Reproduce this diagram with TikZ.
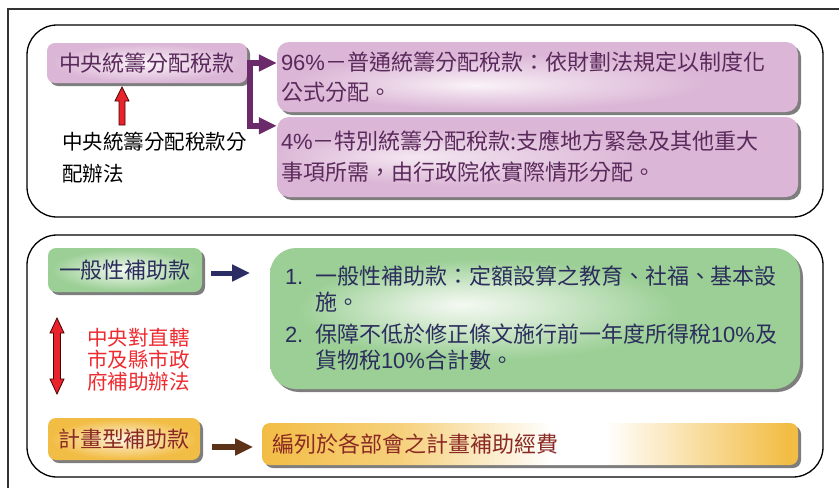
\documentclass[tikz,border=0pt]{standalone}
\usepackage{fontspec}
\setmainfont{Noto Sans CJK TC}
\newfontfamily\latn{Liberation Sans}
\usetikzlibrary{arrows.meta,shadows,calc}
\definecolor{pinkbox}{HTML}{DBB6D6}
\definecolor{pinklight}{HTML}{FAF3F8}
\definecolor{greenbox}{HTML}{9BCF95}
\definecolor{greenlight}{HTML}{F4F9F2}
\definecolor{orangebox}{HTML}{F2BD45}
\definecolor{orangelight}{HTML}{FDF3E0}
\definecolor{purpletext}{HTML}{5B2A5C}
\definecolor{navytext}{HTML}{2B2D5C}
\definecolor{browntext}{HTML}{8B2A24}
\definecolor{purplearrow}{HTML}{6B2B6B}
\definecolor{navyarrow}{HTML}{2D2D66}
\definecolor{brownarrow}{HTML}{5C3319}
\definecolor{arrowred}{HTML}{E8232B}
\definecolor{redtext}{HTML}{EE2A2F}
\definecolor{shadowgray}{HTML}{7E7E7E}
\definecolor{framegray}{HTML}{333333}
\pgfdeclareradialshading{pinksmall}{\pgfpoint{0bp}{0bp}}{color(0bp)=(pinklight); color(24bp)=(pinkbox); color(50bp)=(pinkbox)}
\pgfdeclareradialshading{pinkbigA}{\pgfpoint{-6bp}{-6bp}}{color(0bp)=(pinklight); color(8bp)=(pinklight!55!pinkbox); color(20bp)=(pinkbox); color(50bp)=(pinkbox)}
\pgfdeclareradialshading{pinkbigB}{\pgfpoint{-12bp}{0bp}}{color(0bp)=(pinklight!80!pinkbox); color(18bp)=(pinkbox); color(50bp)=(pinkbox)}
\pgfdeclareradialshading{greensmall}{\pgfpoint{0bp}{0bp}}{color(0bp)=(greenlight); color(24bp)=(greenbox); color(50bp)=(greenbox)}
\pgfdeclareradialshading{greenbig}{\pgfpoint{-7bp}{5bp}}{color(0bp)=(greenlight); color(6bp)=(greenlight!70!greenbox); color(18bp)=(greenbox); color(50bp)=(greenbox)}
\pgfdeclareradialshading{orangesmall}{\pgfpoint{0bp}{0bp}}{color(0bp)=(orangelight); color(24bp)=(orangebox); color(50bp)=(orangebox)}
\pgfdeclarehorizontalshading{orangebig}{100bp}{color(0bp)=(orangebox); color(25bp)=(orangebox); color(38bp)=(orangebox!70!white); color(52bp)=(white); color(57bp)=(white); color(74bp)=(orangebox); color(100bp)=(orangebox)}
\begin{document}
\begin{tikzpicture}[x=1pt,y=-1pt,
  shadowed/.style={drop shadow={shadow xshift=3pt,shadow yshift=-3pt,fill=shadowgray,opacity=1}},
  smallbox/.style={shadowed, shade, rounded corners=8pt, inner sep=0pt, align=center,
    font=\fontsize{22}{28}\selectfont},
  bigbox/.style={shadowed, shade, rounded corners=12pt, inner ysep=0pt, align=left,
    font=\fontsize{22}{30}\selectfont},
  frame/.style={draw=black, line width=1.3pt, rounded corners=30pt},
  blockarrow/.style={fill=arrowred, draw=black!70!red, line width=0.8pt, line join=miter},
  thickarrow/.style={line width=5.5pt, -{Triangle[length=18pt,width=16pt]}}
]
\useasboundingbox (0,0) rectangle (839,488);
% outer frame (open at right and bottom)
\draw[framegray, line width=1.2pt] (8,488) -- (8,9) -- (839,9);
% group frames
\draw[frame] (27,25) rectangle (823,217);
\draw[frame] (27,235) rectangle (823,477);

% ---------- upper group ----------
\node[smallbox, shading=pinksmall, text=purpletext, minimum width=200pt, minimum height=40pt]
  (n1) at (147,63) {中央統籌分配稅款};
\node[bigbox, shading=pinkbigA, text=purpletext, minimum width=521pt, minimum height=70pt,
  text width=513pt, inner xsep=4pt] (p96) at (537.5,77)
  {{\latn 96\%}－普通統籌分配稅款：依財劃法規定以制度化\\公式分配。};
\node[bigbox, shading=pinkbigB, text=purpletext, minimum width=521pt, minimum height=80pt,
  text width=513pt, inner xsep=4pt, font=\fontsize{22}{31}\selectfont] (p4) at (537.5,157)
  {{\latn 4\%}－特別統籌分配稅款:支應地方緊急及其他重大\\事項所需，由行政院依實際情形分配。};
\node[anchor=north west, inner sep=0pt, align=left, text=black,
  font=\fontsize{20.5}{32}\selectfont] (law1) at (62,132)
  {中央統籌分配稅款分\\配辦法};

% purple branching connector
\coordinate (j1) at ($(n1.east)+(3,0)$);
\coordinate (p4in) at ($(p4.north west)+(0,9)$);
\draw[purplearrow, thickarrow] (n1.east) -- (n1.east -| p96.west);
\draw[purplearrow, thickarrow, line join=miter] ([yshift=2.75pt]j1) -- (j1 |- p4in) -- (p4in);

% red up arrow
\coordinate (rb) at (122,125);
\coordinate (rt) at (122,87);
\filldraw[blockarrow] ($(rb)+(-3,0)$) -- ($(rt)+(-3,14)$) -- ($(rt)+(-7,14)$) -- (rt)
  -- ($(rt)+(7,14)$) -- ($(rt)+(3,14)$) -- ($(rb)+(3,0)$) -- cycle;

% ---------- lower group ----------
\node[smallbox, shading=greensmall, text=navytext, minimum width=154pt, minimum height=44pt]
  (g1) at (125,270) {一般性補助款};
\node[bigbox, shading=greenbig, text=navytext, rounded corners=26pt, minimum width=530pt,
  minimum height=141pt, text width=500pt, inner xsep=15pt] (gbig) at (535,318.5)
  {\makebox[30pt][l]{\latn 1.}一般性補助款：定額設算之教育、社福、基本設\\[-4pt]
   \hspace*{30pt}施。\\[2pt]
   \makebox[30pt][l]{\latn 2.}保障不低於修正條文施行前一年度所得稅{\latn 10\%}及\\[-4pt]
   \hspace*{30pt}貨物稅{\latn 10\%}合計數。};
\draw[navyarrow, thickarrow, line width=5pt] ([xshift=9pt,yshift=-3pt]g1.east) -- ([xshift=48pt,yshift=-3pt]g1.east);

% red double arrow and text
\coordinate (dt) at (57,318);
\coordinate (db) at (57,394);
\filldraw[blockarrow] (dt) -- ($(dt)+(7,15)$) -- ($(dt)+(3.5,15)$) -- ($(db)+(3.5,-15)$)
  -- ($(db)+(7,-15)$) -- (db) -- ($(db)+(-7,-15)$) -- ($(db)+(-3.5,-15)$)
  -- ($(dt)+(-3.5,15)$) -- ($(dt)+(-7,15)$) -- cycle;
\node[anchor=west, inner sep=0pt, align=left, text=redtext,
  font=\fontsize{20.5}{22}\selectfont] (law2) at (87,360)
  {中央對直轄\\市及縣市政\\府補助辦法};

\node[smallbox, shading=orangesmall, text=browntext, minimum width=152pt, minimum height=42pt]
  (o1) at (124,439) {計畫型補助款};
\node[bigbox, shading=orangebig, text=browntext, rounded corners=8pt, minimum width=536pt,
  minimum height=42pt, text width=516pt, inner xsep=10pt] (obig) at (530,444)
  {編列於各部會之計畫補助經費};
\draw[brownarrow, thickarrow, line width=6pt] ([xshift=12pt,yshift=-8pt]o1.east) -- ([xshift=53pt,yshift=-8pt]o1.east);
\end{tikzpicture}
\end{document}
